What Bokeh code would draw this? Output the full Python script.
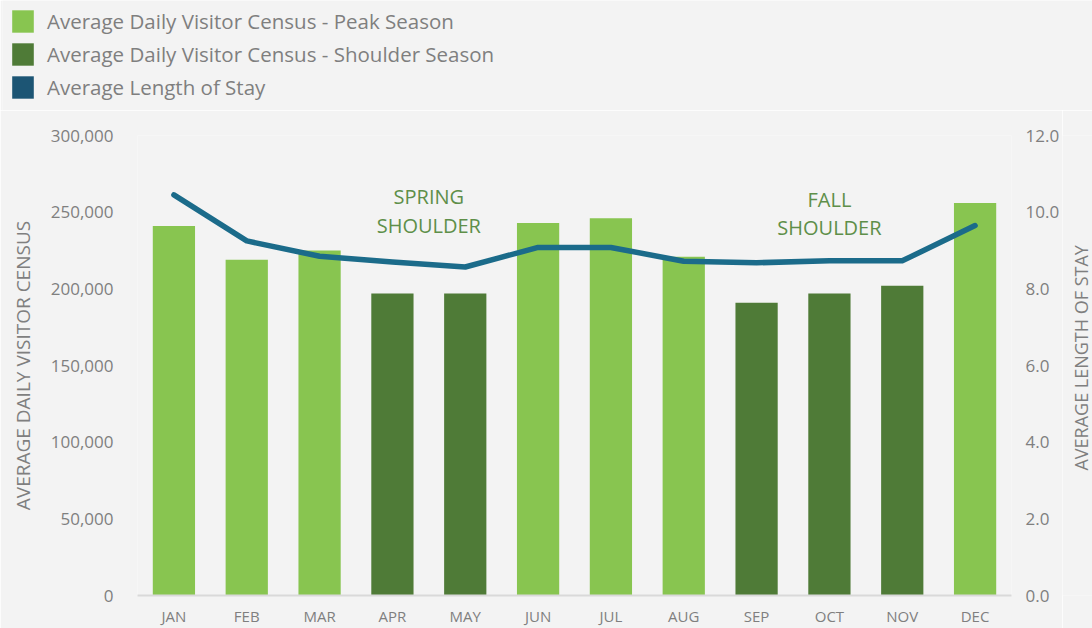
import math
from bokeh.plotting import figure
from bokeh.layouts import column, row
from bokeh.models import (ColumnDataSource, FactorRange, Range1d, LinearAxis,
                          FixedTicker, NumeralTickFormatter, Legend, LegendItem)
from bokeh.core.properties import value
from bokeh.embed import file_html
from bokeh.resources import INLINE

# ---------------- data ----------------
months = ["JAN", "FEB", "MAR", "APR", "MAY", "JUN", "JUL", "AUG", "SEP", "OCT", "NOV", "DEC"]
visitors = [241000, 219000, 225000, 197000, 197000, 243000, 246000, 221000, 191000, 197000, 202000, 256000]
season = ["Peak", "Peak", "Peak", "Shoulder", "Shoulder", "Peak", "Peak", "Peak",
          "Shoulder", "Shoulder", "Shoulder", "Peak"]
stay = [10.45, 9.25, 8.85, 8.7, 8.57, 9.08, 9.08, 8.72, 8.68, 8.73, 8.73, 9.65]

left_ticks = [0, 50000, 100000, 150000, 200000, 250000, 300000]
right_ticks = [0, 2, 4, 6, 8, 10, 12]

legend_labels = ["Average Daily Visitor Census - Peak Season",
                 "Average Daily Visitor Census - Shoulder Season",
                 "Average Length of Stay"]

left_title = "AVERAGE DAILY VISITOR CENSUS"
right_title = "AVERAGE LENGTH OF STAY"

note_lines = ["SPRING", "SHOULDER", "FALL", "SHOULDER"]
note_x = [4.0, 4.0, 9.5, 9.5]          # categorical coordinate (APR/MAY boundary, OCT)
note_y = [260000, 241500, 258500, 240000]

# ---------------- style ----------------
BG = "#F3F3F3"
PEAK = "#88C550"
SHOULDER = "#4F7B37"
LINE = "#1B6B8A"
LEGEND_LINE = "#1C5574"
GREY = "#7F7F7F"
FONT = "Open Sans"

LEG_H = 110
SIDE_W = 30
MAIN_W = 1092 - SIDE_W
MAIN_H = 628 - LEG_H

peak_idx = [i for i, s in enumerate(season) if s == "Peak"]
sh_idx = [i for i, s in enumerate(season) if s == "Shoulder"]
peak_src = ColumnDataSource(dict(m=[months[i] for i in peak_idx], v=[visitors[i] for i in peak_idx]))
sh_src = ColumnDataSource(dict(m=[months[i] for i in sh_idx], v=[visitors[i] for i in sh_idx]))
line_src = ColumnDataSource(dict(m=months, s=stay))

# ---------------- legend strip ----------------
# hidden copies of the series, used only to feed the legend swatches
lg = figure(width=1092, height=LEG_H, x_range=FactorRange(*months),
            output_backend="svg", toolbar_location=None,
            x_axis_location=None, y_axis_location=None,
            min_border_left=2, min_border_right=0, min_border_top=0, min_border_bottom=0)
lg.background_fill_color = BG
lg.border_fill_color = BG
lg.outline_line_color = None
for g in lg.grid:
    g.visible = False
d1 = lg.vbar(x="m", top="v", width=0.5, source=peak_src, fill_color=PEAK, line_color=None, visible=False)
d2 = lg.vbar(x="m", top="v", width=0.5, source=sh_src, fill_color=SHOULDER, line_color=None, visible=False)
d3 = lg.vbar(x="m", top="s", width=0.5, source=line_src, fill_color=LEGEND_LINE, line_color=None, visible=False)
legend = Legend(items=[LegendItem(label=legend_labels[0], renderers=[d1]),
                       LegendItem(label=legend_labels[1], renderers=[d2]),
                       LegendItem(label=legend_labels[2], renderers=[d3])],
                location="top_left", orientation="vertical",
                glyph_width=27, glyph_height=28, label_height=28, spacing=5,
                label_standoff=11, padding=0, margin=7,
                background_fill_alpha=0, border_line_color=None,
                inactive_fill_alpha=0,
                label_text_font=FONT, label_text_font_size="20.5px", label_text_color=GREY)
lg.add_layout(legend, "center")

# ---------------- main chart ----------------
p = figure(width=MAIN_W, height=MAIN_H, x_range=FactorRange(*months, range_padding=0),
           y_range=Range1d(0, 300000), output_backend="svg", toolbar_location=None,
           min_border_left=137, min_border_right=MAIN_W - 1012, min_border_top=25, min_border_bottom=33)
p.extra_y_ranges = {"stay": Range1d(0, 12)}

p.background_fill_color = BG
p.border_fill_color = BG
p.outline_line_color = None
p.xgrid.grid_line_color = None
p.ygrid.grid_line_color = None

p.vbar(x="m", top="v", width=0.58, source=peak_src, fill_color=PEAK, line_color=None)
p.vbar(x="m", top="v", width=0.58, source=sh_src, fill_color=SHOULDER, line_color=None)
p.line(x="m", y="s", source=line_src, y_range_name="stay", line_color=LINE,
       line_width=5.5, line_cap="round", line_join="round")

p.text(x=note_x, y=note_y, text=note_lines, text_align="center", text_baseline="middle",
       text_color="#5E8F49", text_font=value(FONT), text_font_size="20px")

xa = p.xaxis[0]
xa.axis_line_color = "#D9D9D9"
xa.axis_line_width = 2
xa.major_tick_line_color = None
xa.minor_tick_line_color = None
xa.major_tick_out = 0
xa.major_tick_in = 0
xa.major_label_standoff = 10
xa.major_label_text_font = FONT
xa.major_label_text_font_size = "15px"
xa.major_label_text_color = GREY

ya = p.yaxis[0]
ya.ticker = FixedTicker(ticks=left_ticks)
ya.formatter = NumeralTickFormatter(format="0,0")
ya.axis_line_color = None
ya.major_tick_line_color = None
ya.minor_tick_line_color = None
ya.major_tick_out = 0
ya.major_tick_in = 0
ya.major_label_standoff = 24
ya.major_label_text_font = FONT
ya.major_label_text_font_size = "17px"
ya.major_label_text_color = GREY
ya.axis_label = left_title
ya.axis_label_text_font = FONT
ya.axis_label_text_font_size = "19px"
ya.axis_label_text_font_style = "normal"
ya.axis_label_text_color = GREY
ya.axis_label_standoff = 12

ra = LinearAxis(y_range_name="stay", ticker=FixedTicker(ticks=right_ticks),
                formatter=NumeralTickFormatter(format="0.0"))
ra.axis_line_color = None
ra.major_tick_line_color = None
ra.minor_tick_line_color = None
ra.major_tick_out = 0
ra.major_tick_in = 0
ra.major_label_standoff = 14
ra.major_label_text_font = FONT
ra.major_label_text_font_size = "17px"
ra.major_label_text_color = GREY
p.add_layout(ra, "right")

# ---------------- right axis title strip (reads bottom-to-top) ----------------
st = figure(width=SIDE_W, height=MAIN_H, x_range=Range1d(0, 1), y_range=Range1d(0, 12),
            output_backend="svg", toolbar_location=None,
            x_axis_location=None, y_axis_location=None,
            min_border_left=0, min_border_right=0, min_border_top=25, min_border_bottom=33)
st.background_fill_color = BG
st.border_fill_color = BG
st.outline_line_color = None
for g in st.grid:
    g.visible = False
st.text(x=[0.6], y=[6.2], text=[right_title], angle=math.pi / 2,
        text_align="center", text_baseline="middle",
        text_font=value(FONT), text_font_size="18px", text_color=GREY)

layout = column(lg, row(p, st, spacing=0), spacing=0)
open("out.html", "w").write(file_html(layout, INLINE))
